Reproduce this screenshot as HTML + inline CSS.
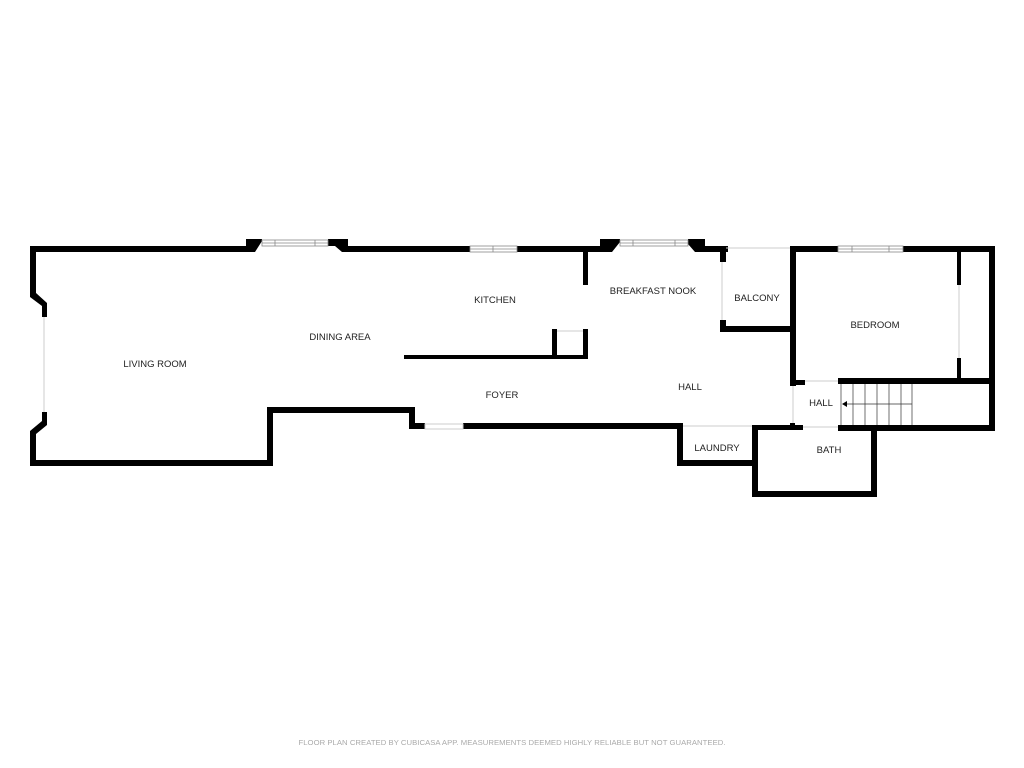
<!DOCTYPE html>
<html><head><meta charset="utf-8"><style>
html,body{margin:0;padding:0;background:#fff;width:1024px;height:768px;overflow:hidden}
svg text{font-family:"Liberation Sans",sans-serif;font-size:9.5px;fill:#222}
</style></head><body>
<svg width="1024" height="768" viewBox="0 0 1024 768" xmlns="http://www.w3.org/2000/svg">
<g fill="#000">
<polygon points="30,246 246,246 246,239 262,239 262,241 255,252 30,252"/>
<polygon points="328,239 348,239 348,246 470,246 470,252 342,252 335,246 328,246"/>
<rect x="517" y="246" width="83" height="6"/>
<polygon points="600,239 620,239 620,242 612,252 600,252"/>
<polygon points="688,239 705,239 705,246 728,246 728,252 695,252 688,244"/>
<rect x="790" y="246" width="48" height="6"/>
<rect x="903" y="246" width="92" height="6"/>
<rect x="989" y="246" width="6" height="184"/>
<polygon points="30,246 36,246 36,293 47,303 47,317 42,317 42,306 30,297"/>
<polygon points="42,412 47,412 47,425 36,434 36,466 30,466 30,431 42,421"/>
<rect x="30" y="460" width="243" height="6"/>
<rect x="267" y="407" width="6" height="59"/>
<rect x="267" y="407" width="148" height="6"/>
<rect x="409" y="407" width="6" height="22"/>
<rect x="409" y="423" width="16" height="6"/>
<rect x="463" y="423" width="220" height="6"/>
<rect x="404" y="355" width="184" height="4"/>
<rect x="552" y="329" width="5" height="30"/>
<rect x="583" y="329" width="5" height="30"/>
<rect x="583" y="252" width="5" height="33"/>
<rect x="720" y="246" width="6" height="16"/>
<rect x="720" y="320" width="6" height="12"/>
<rect x="720" y="326" width="76" height="6"/>
<rect x="790" y="246" width="6" height="140"/>
<rect x="790" y="380" width="15" height="5"/>
<rect x="957" y="252" width="4" height="33"/>
<rect x="957" y="358" width="4" height="24"/>
<rect x="838" y="378" width="157" height="6"/>
<rect x="790" y="423" width="5" height="7"/>
<rect x="790" y="425" width="13" height="5"/>
<rect x="838" y="425" width="157" height="6"/>
<rect x="677" y="423" width="6" height="43"/>
<rect x="677" y="460" width="81" height="6"/>
<rect x="752" y="425" width="6" height="72"/>
<rect x="752" y="491" width="125" height="6"/>
<rect x="871" y="425" width="6" height="72"/>
<rect x="752" y="425" width="51" height="5"/>
</g>
<g fill="none" stroke="#888" stroke-width="0.8">
<rect x="262" y="240" width="66" height="6"/><line x1="262" y1="243" x2="328" y2="243"/>
<line x1="275" y1="240" x2="275" y2="246"/><line x1="315" y1="240" x2="315" y2="246"/>
<rect x="470" y="246" width="47" height="6"/><line x1="470" y1="249" x2="517" y2="249"/><line x1="493" y1="246" x2="493" y2="252"/>
<rect x="620" y="240" width="68" height="6"/><line x1="620" y1="243" x2="688" y2="243"/>
<line x1="633" y1="240" x2="633" y2="246"/><line x1="675" y1="240" x2="675" y2="246"/>
<rect x="838" y="246" width="65" height="6"/><line x1="838" y1="249" x2="903" y2="249"/>
<line x1="852" y1="246" x2="852" y2="252"/><line x1="889" y1="246" x2="889" y2="252"/>
</g>
<g stroke="#ccc" stroke-width="1" fill="none">
<line x1="44" y1="317" x2="44" y2="412"/>
<line x1="726" y1="248" x2="790" y2="248"/>
<line x1="722" y1="262" x2="722" y2="320"/>
<line x1="959" y1="285" x2="959" y2="358"/>
<rect x="425" y="424" width="38" height="5"/>
<line x1="557" y1="331" x2="583" y2="331"/>
<line x1="683" y1="426" x2="752" y2="426"/>
<line x1="805" y1="381" x2="838" y2="381"/>
<line x1="803" y1="427" x2="838" y2="427"/>
<line x1="793" y1="386" x2="793" y2="423"/>
</g>
<g stroke="#333" stroke-width="0.7" fill="none">
<line x1="841" y1="384" x2="841" y2="425"/>
<line x1="853" y1="384" x2="853" y2="425"/><line x1="865" y1="384" x2="865" y2="425"/>
<line x1="877" y1="384" x2="877" y2="425"/><line x1="889" y1="384" x2="889" y2="425"/>
<line x1="901" y1="384" x2="901" y2="425"/><line x1="912" y1="384" x2="912" y2="425"/>
<line x1="844" y1="404" x2="912" y2="404"/>
</g>
<polygon points="842,404 847,401 847,407" fill="#000"/>
<text x="155" y="367" text-anchor="middle">LIVING ROOM</text>
<text x="340" y="340" text-anchor="middle">DINING AREA</text>
<text x="495" y="303" text-anchor="middle">KITCHEN</text>
<text x="653" y="294" text-anchor="middle">BREAKFAST NOOK</text>
<text x="757" y="301" text-anchor="middle">BALCONY</text>
<text x="875" y="328" text-anchor="middle">BEDROOM</text>
<text x="502" y="398" text-anchor="middle">FOYER</text>
<text x="690" y="390" text-anchor="middle">HALL</text>
<text x="821" y="406" text-anchor="middle">HALL</text>
<text x="717" y="451" text-anchor="middle">LAUNDRY</text>
<text x="829" y="453" text-anchor="middle">BATH</text>
<text x="512" y="745" text-anchor="middle" style="font-size:7.7px;fill:#aaa" textLength="427">FLOOR PLAN CREATED BY CUBICASA APP. MEASUREMENTS DEEMED HIGHLY RELIABLE BUT NOT GUARANTEED.</text>
</svg>
</body></html>
